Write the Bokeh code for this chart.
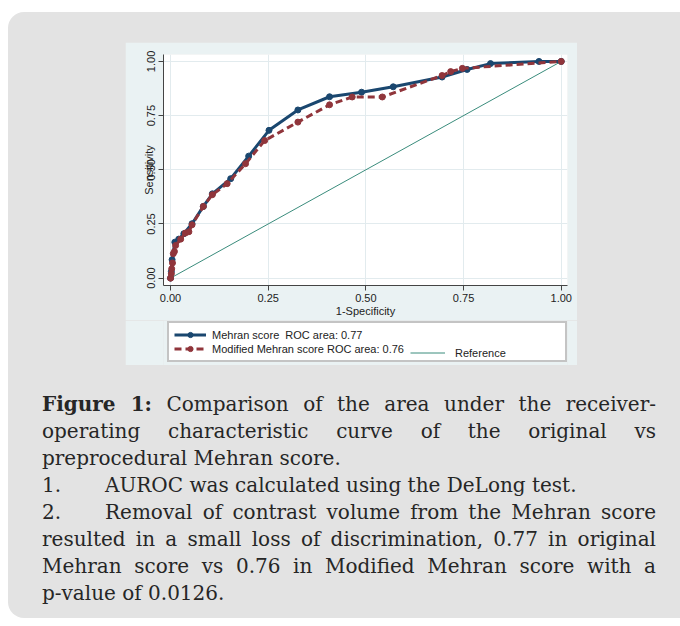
from bokeh.plotting import figure
from bokeh.models import Div, Legend, LegendItem, FixedTicker
from bokeh.layouts import column
from bokeh.embed import file_html
from bokeh.resources import INLINE

# ---------------- data ----------------
mehran_fpr = [0.0, 0.002, 0.004, 0.011, 0.021, 0.034, 0.055, 0.084, 0.107, 0.154, 0.200,
              0.252, 0.326, 0.407, 0.489, 0.570, 0.695, 0.759, 0.819, 0.943, 1.0]
mehran_tpr = [0.0, 0.030, 0.085, 0.166, 0.180, 0.205, 0.251, 0.331, 0.389, 0.459, 0.563,
              0.682, 0.776, 0.837, 0.858, 0.883, 0.928, 0.963, 0.990, 1.0, 1.0]
modified_fpr = [0.0, 0.002, 0.003, 0.005, 0.007, 0.010, 0.013, 0.026, 0.038, 0.047, 0.055,
                0.084, 0.107, 0.145, 0.192, 0.241, 0.326, 0.407, 0.465, 0.542, 0.695,
                0.717, 0.747, 1.0]
modified_tpr = [0.0, 0.020, 0.043, 0.070, 0.113, 0.123, 0.151, 0.180, 0.208, 0.214, 0.246,
                0.331, 0.385, 0.436, 0.528, 0.635, 0.720, 0.800, 0.836, 0.836, 0.935,
                0.953, 0.968, 1.0]
reference_fpr = [0.0, 1.0]
reference_tpr = [0.0, 1.0]

tick_values = [0.0, 0.25, 0.5, 0.75, 1.0]
tick_labels = ["0.00", "0.25", "0.50", "0.75", "1.00"]
series_labels = ["Mehran score  ROC area: 0.77",
                 "Modified Mehran score ROC area: 0.76",
                 "Reference"]
x_title = "1-Specificity"
y_title = "Sensitivity"

caption_title = "Figure 1:"
caption_lines = [
    ("j", "Comparison of the area under the receiver-"),
    ("j", "operating characteristic curve of the original vs"),
    ("l", "preprocedural Mehran score."),
    ("n1", "AUROC was calculated using the DeLong test."),
    ("n2", "Removal of contrast volume from the Mehran score"),
    ("j", "resulted in a small loss of discrimination, 0.77 in original"),
    ("j", "Mehran score vs 0.76 in Modified Mehran score with a"),
    ("l", "p-value of 0.0126."),
]

# ---------------- colours ----------------
NAVY = "#1a476f"
MAROON = "#90353b"
TEAL = "#3a8c7c"
GRAPH_BG = "#eaf2f3"
GRID = "#e2ebee"
BOX_GRAY = "#e3e3e3"
TXT = "#222222"
FONT = "Liberation Sans"

# ---------------- ROC plot ----------------
p = figure(width=452, height=278,
           x_range=(-0.018, 1.016), y_range=(-0.034, 1.032),
           output_backend="svg", toolbar_location=None,
           min_border_left=38, min_border_right=10, min_border_top=12, min_border_bottom=35,
           background_fill_color="white", border_fill_color=GRAPH_BG,
           outline_line_color=None)
p.margin = (30, 0, 0, 117)

for ax in (p.xaxis[0], p.yaxis[0]):
    ax.ticker = FixedTicker(ticks=tick_values)
    ax.major_label_overrides = {v: l for v, l in zip(tick_values, tick_labels)}
    ax.major_tick_out = 5
    ax.major_tick_in = 0
    ax.minor_tick_out = 0
    ax.minor_tick_in = 0
    ax.axis_line_color = "#444444"
    ax.major_tick_line_color = "#444444"
    ax.major_label_text_font = FONT
    ax.major_label_text_font_size = "11px"
    ax.major_label_text_color = TXT
    ax.major_label_standoff = 3
    ax.axis_label_text_font = FONT
    ax.axis_label_text_font_size = "11px"
    ax.axis_label_text_font_style = "normal"
    ax.axis_label_text_color = TXT

p.xaxis[0].axis_label = x_title
p.xaxis[0].axis_label_standoff = 0
p.yaxis[0].axis_label = y_title
p.yaxis[0].axis_label_standoff = -10
p.yaxis[0].major_label_orientation = "vertical"

p.xgrid.ticker = FixedTicker(ticks=tick_values)
p.ygrid.ticker = FixedTicker(ticks=tick_values)
p.xgrid.grid_line_color = GRID
p.ygrid.grid_line_color = GRID

p.line(reference_fpr, reference_tpr, line_color=TEAL, line_width=1)
p.line(mehran_fpr, mehran_tpr, line_color=NAVY, line_width=3)
p.scatter(mehran_fpr, mehran_tpr, size=6, fill_color=NAVY, line_color=NAVY)
p.line(modified_fpr, modified_tpr, line_color=MAROON, line_width=3, line_dash="7 4")
p.scatter(modified_fpr, modified_tpr, size=6, fill_color=MAROON, line_color=MAROON)

# ---------------- legend strip (same graph region; frame aligned with the plot) ----------------
q = figure(width=452, height=45, x_range=(0, 1), y_range=(0, 1),
           output_backend="svg", toolbar_location=None,
           min_border=0, min_border_left=0, min_border_right=0,
           min_border_top=0, min_border_bottom=0,
           background_fill_color=GRAPH_BG, border_fill_color=GRAPH_BG,
           outline_line_color=None)
q.margin = (0, 0, 0, 117)
q.axis.visible = False
q.grid.visible = False

# key glyphs only (data kept outside the visible range)
off = [-5.0, -4.0]
k_ref = q.line(off, off, line_color=TEAL, line_width=1)
k_l1 = q.line(off, off, line_color=NAVY, line_width=3)
k_s1 = q.scatter(off, off, size=6, fill_color=NAVY, line_color=NAVY)
k_l2 = q.line(off, off, line_color=MAROON, line_width=3, line_dash="7 4")
k_s2 = q.scatter(off, off, size=6, fill_color=MAROON, line_color=MAROON)

leg1 = Legend(items=[LegendItem(label=series_labels[0], renderers=[k_l1, k_s1], index=0),
                     LegendItem(label=series_labels[1], renderers=[k_l2, k_s2], index=0)],
              location=(4, 3), orientation="vertical",
              border_line_color="#8a8a8a", border_line_width=2,
              background_fill_color="white", background_fill_alpha=1,
              label_text_font=FONT, label_text_font_size="11px", label_text_color=TXT,
              glyph_width=32, glyph_height=13, label_height=13, label_width=348,
              label_standoff=6, spacing=1, padding=5, margin=0)
q.add_layout(leg1)

leg2 = Legend(items=[LegendItem(label=series_labels[2], renderers=[k_ref], index=0)],
              location=(247, 6), orientation="vertical",
              border_line_color=None, background_fill_alpha=0,
              label_text_font=FONT, label_text_font_size="11px", label_text_color=TXT,
              glyph_width=35, glyph_height=13, label_height=13,
              label_standoff=10, spacing=0, padding=0, margin=0)
q.add_layout(leg2)

# ---------------- caption ----------------
rows = []
first = True
for kind, txt in caption_lines:
    body = txt
    if first:
        body = "<b>" + caption_title + "</b> " + txt
        first = False
    style = "text-align:left;"
    if kind in ("j", "n2"):
        style = "text-align:justify;text-align-last:justify;"
    if kind in ("n1", "n2"):
        num = "1." if kind == "n1" else "2."
        body = '<span style="display:inline-block;width:63px;">' + num + "</span>" + body
    rows.append('<div style="' + style + 'white-space:nowrap;">' + body + "</div>")

html = ('<div style="font-family:\'DejaVu Serif\';font-size:20px;line-height:27px;'
        'color:#262626;width:614px;">' + "".join(rows) + "</div>")
cap = Div(text=html, width=614, height=216, margin=(26, 0, 0, 34))

layout = column(p, q, cap, width=672, height=606, margin=(12, 0, 0, 8),
                styles={"background-color": BOX_GRAY, "border-radius": "16px 0 0 16px"})

open("out.html", "w").write(file_html(layout, INLINE))
